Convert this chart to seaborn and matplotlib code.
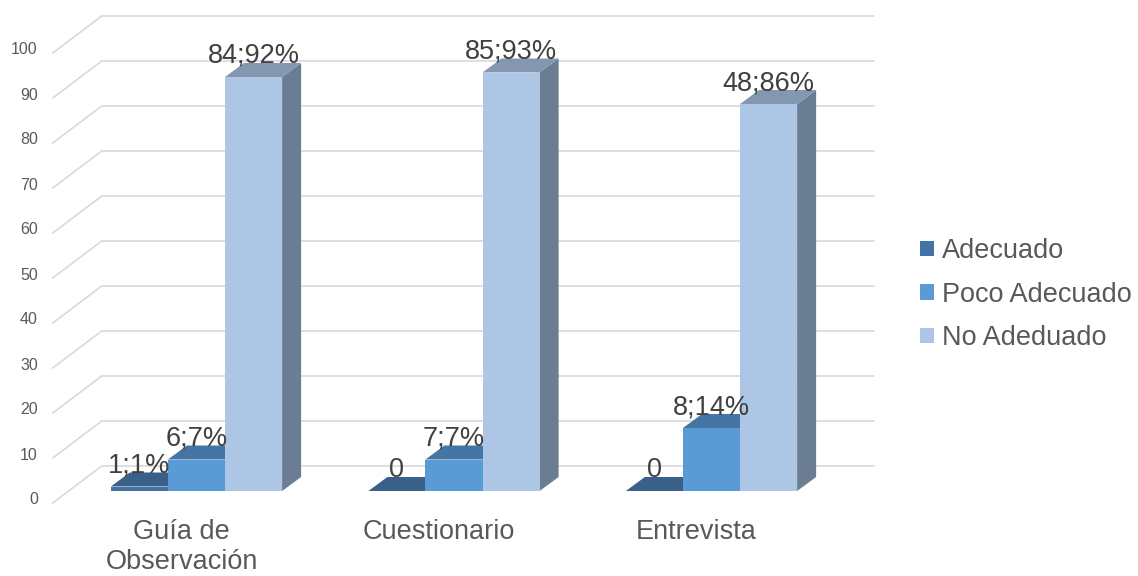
import numpy as np
import pandas as pd
import matplotlib
matplotlib.use("Agg")
import matplotlib.pyplot as plt
from matplotlib.patches import Polygon
import seaborn as sns

# ---- data ----
categories = ["Guía de\nObservación", "Cuestionario", "Entrevista"]
series = ["Adecuado", "Poco Adecuado", "No Adeduado"]
adecuado = [1, 0, 0]
poco_adecuado = [7, 7, 14]
no_adecuado = [92, 93, 86]
lab_adecuado = ["1;1%", "0", "0"]
lab_poco = ["6;7%", "7;7%", "8;14%"]
lab_no = ["84;92%", "85;93%", "48;86%"]
yticks = [0, 10, 20, 30, 40, 50, 60, 70, 80, 90, 100]

values = [adecuado, poco_adecuado, no_adecuado]
labels = [lab_adecuado, lab_poco, lab_no]
df = pd.DataFrame({
    "cat": np.repeat([categories], 3, axis=0).ravel(),
    "serie": np.repeat(series, 3),
    "val": np.concatenate(values),
})

front_cols = ["#4372A5", "#5B9BD5", "#ADC6E5"]
top_cols = ["#3A5F88", "#4475A4", "#8497B0"]
side_cols = ["#2F4E70", "#3A6690", "#6B7D92"]

sns.set_style("white")
plt.rcParams["font.family"] = ["Liberation Sans", "DejaVu Sans"]

W, H = 1138, 576
fig = plt.figure(figsize=(W / 100, H / 100), dpi=100)
ax_left, ax_bottom, ax_w, ax_h = 67.75, 85, 772.5, 450
ax = fig.add_axes([ax_left / W, ax_bottom / H, ax_w / W, ax_h / H])

sns.barplot(data=df, x="cat", y="val", hue="serie", palette=front_cols,
            width=0.665, saturation=1, ax=ax, linewidth=0, legend=True)
ax.set_xlim(-0.5, 2.5)
ax.set_ylim(0, 100)

pxx = ax_w / 3.0   # px per x unit
pxy = ax_h / 100.0 # px per y unit

# depth offsets (pixels -> data units)
bar_dx, bar_dy = 19 / pxx, 14 / pxy
back_dx, back_dy = 34 / pxx, 25 / pxy
front_dx, front_dy = -15 / pxx, -12 / pxy

grid_col = "#D9D9D9"
x_back_l = -0.5 + back_dx
x_back_r = 2.5 + back_dx
for v in yticks:
    ax.plot([x_back_l, x_back_r], [v + back_dy, v + back_dy], color=grid_col,
            lw=1.2, zorder=1, clip_on=False)
    ax.plot([-0.5 + front_dx, x_back_l], [v + front_dy, v + back_dy],
            color=grid_col, lw=1.2, zorder=1, clip_on=False)
    ax.text(-0.5 - 30 / pxx, v - 2.0, str(v), ha="right", va="center",
            fontsize=11.5, color="#595959", clip_on=False)

# 3D faces + labels
for s, cont in enumerate(ax.containers):
    for c, bar in enumerate(cont):
        x0, w, h = bar.get_x(), bar.get_width(), bar.get_height()
        k = c * 3 + s
        z = 10 + k * 3
        bar.set_zorder(z + 2)
        top = Polygon([(x0, h), (x0 + w, h), (x0 + w + bar_dx, h + bar_dy),
                       (x0 + bar_dx, h + bar_dy)], closed=True,
                      facecolor=top_cols[s], edgecolor="none", zorder=z + 1,
                      clip_on=False)
        side = Polygon([(x0 + w, 0), (x0 + w, h), (x0 + w + bar_dx, h + bar_dy),
                        (x0 + w + bar_dx, bar_dy)], closed=True,
                       facecolor=side_cols[s], edgecolor="none", zorder=z,
                       clip_on=False)
        ax.add_patch(side)
        ax.add_patch(top)
        ax.text(x0 + w / 2, h + bar_dy, labels[s][c], ha="center",
                va="baseline", fontsize=19.5, color="#404040", zorder=100,
                clip_on=False)

# category labels
for i, cat in enumerate(categories):
    ax.text(i + front_dx, -6.2, cat, ha="center", va="top", fontsize=19.5,
            color="#595959", linespacing=1.2, clip_on=False)

ax.set_xticks([])
ax.set_yticks([])
ax.set_xlabel("")
ax.set_ylabel("")
for sp in ax.spines.values():
    sp.set_visible(False)
ax.patch.set_alpha(0)

handles, labs = ax.get_legend_handles_labels()
ax.legend(handles, labs, loc="center left", bbox_to_anchor=(920 / W, 1 - 294.5 / H),
          bbox_transform=fig.transFigure, frameon=False, fontsize=19.5,
          handlelength=0.5, handleheight=0.5, handletextpad=0.3,
          labelspacing=0.64, borderpad=0, borderaxespad=0, labelcolor="#595959")

fig.savefig("out.png", dpi=100)
